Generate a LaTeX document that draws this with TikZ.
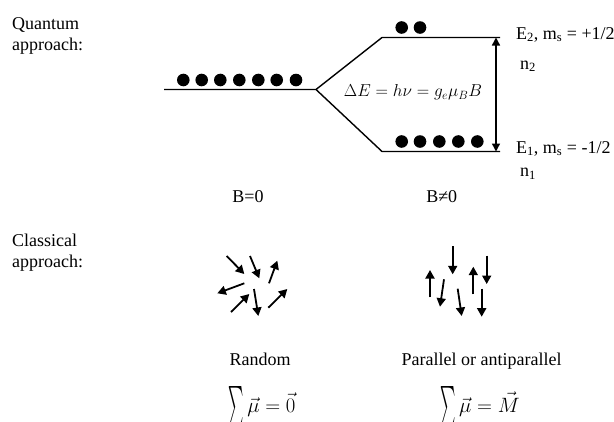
\documentclass[tikz,border=0pt]{standalone}
\usepackage{amsmath}
\usepackage{fontspec}
\setmainfont{Liberation Serif}
\usetikzlibrary{arrows.meta}
\newcommand{\tallsum}{\mathop{\vcenter{\hbox{\scalebox{0.7}[2.0]{$\textstyle\sum$}}}}}
\begin{document}
\begin{tikzpicture}[x=1pt,y=-1pt,
  txt/.style={font=\fontsize{18}{21}\selectfont, inner sep=0pt},
  formula/.style={font=\fontsize{21}{24}\selectfont, inner sep=0pt},
  lvl/.style={line width=1.4pt},
  spin/.style={line width=1.8pt, -{Triangle[length=8.5pt,width=9pt]}},
  gap/.style={line width=1.4pt, {Triangle[length=8pt,width=8pt]}-{Triangle[length=8pt,width=8pt]}},
  elec/.style={fill=black}]
\useasboundingbox (0,0) rectangle (614,421);
% titles
\node[txt, anchor=base west] (q1) at (12,29) {Quantum};
\node[txt, anchor=base west] (q2) at (12,50) {approach:};
\node[txt, anchor=base west] (c1) at (12,246.5) {Classical};
\node[txt, anchor=base west] (c2) at (12,267) {approach:};
% levels
\coordinate (L0a) at (164,89.5);
\coordinate (L0b) at (316,89.5);
\coordinate (Ua) at (382,37.5);
\coordinate (Ub) at (500,37.5);
\coordinate (Da) at (382,151.5);
\coordinate (Db) at (500,151.5);
\draw[lvl, line join=miter] (L0a) -- (L0b) -- (Ua) -- (Ub);
\draw[lvl, line join=miter] (L0b) -- (Da) -- (Db);
% electrons
\foreach \x in {183.3,201.7,220.3,239.3,258.3,276.7,296} \fill[elec] (\x,80) circle (6.3);
\foreach \x in {401.7,420} \fill[elec] (\x,27.5) circle (6.3);
\foreach \x in {401.7,420,439.3,458.3,477.3} \fill[elec] (\x,141.5) circle (6.3);
% gap arrow
\coordinate (At) at (496,37.5);
\coordinate (Ab) at (496,151.5);
\draw[gap] (At) -- (Ab);
\node[txt, font=\fontsize{17}{20}\selectfont] (dE) at (413,92.5) {$\Delta E = h\nu = g_e\mu_B B$};
% level labels
\node[txt, anchor=base west] (E2) at (516,39.3) {E\textsubscript{2}, m\textsubscript{s} = +1/2};
\node[txt, anchor=base west] (n2) at (520,69.3) {n\textsubscript{2}};
\node[txt, anchor=base west] (E1) at (516,153.3) {E\textsubscript{1}, m\textsubscript{s} = -1/2};
\node[txt, anchor=base west] (n1) at (520,176.7) {n\textsubscript{1}};
\node[txt, anchor=base] (B0) at (248,202) {B=0};
\node[txt, anchor=base] (B1) at (441.7,202) {B≠0};
% random spins
\draw[spin] (226.7,256) -- (244.3,274);
\draw[spin] (250,256) -- (259.3,278.3);
\draw[spin] (269,283.3) -- (277.3,260.7);
\draw[spin] (244.3,283.3) -- (217.3,293.3);
\draw[spin] (231,312) -- (249.3,294);
\draw[spin] (254,289) -- (258.3,316);
\draw[spin] (268.3,307.7) -- (287.3,289);
% parallel spins
\draw[spin] (452.7,246) -- (452.7,274.3);
\draw[spin] (430,297.3) -- (430,270);
\draw[spin] (444,279.3) -- (440,306.7);
\draw[spin] (457.7,288.7) -- (461.7,316);
\draw[spin] (473.3,294.3) -- (473.3,266.7);
\draw[spin] (486.7,255.7) -- (486.7,284);
\draw[spin] (481.7,288.7) -- (481.7,316.7);
% captions
\node[txt, anchor=base] (R) at (260,365) {Random};
\node[txt, anchor=base] (P) at (481.7,365) {Parallel or antiparallel};
\node[formula, anchor=base] (S1) at (262,412) {$\tallsum\vec{\mu} = \vec{0}$};
\node[formula, anchor=base] (S2) at (480,412) {$\tallsum\vec{\mu} = \vec{M}$};
\end{tikzpicture}
\end{document}
